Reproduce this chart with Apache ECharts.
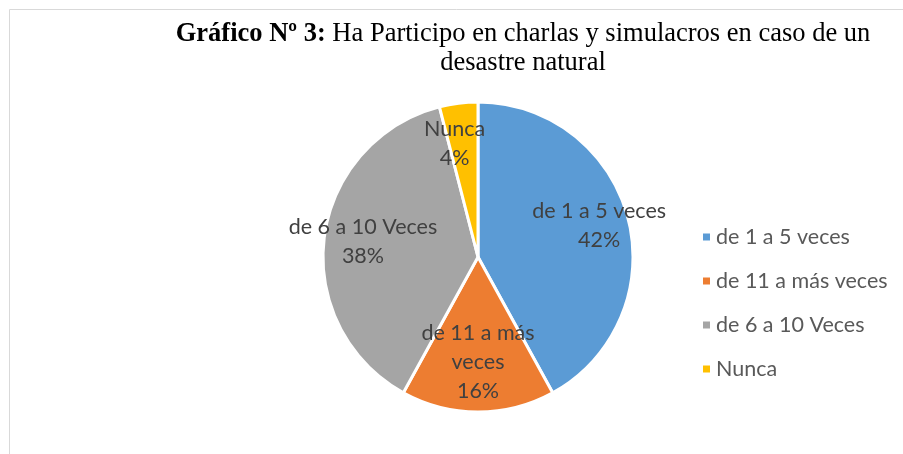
<!DOCTYPE html>
<html><head><meta charset="utf-8">
<script src="https://cdn.jsdelivr.net/npm/echarts@6/dist/echarts.min.js"></script>
<style>html,body{margin:0;padding:0;background:#fff}#c{width:903px;height:454px}</style>
</head><body><div id="c"></div>
<script>
const categories = ['de 1 a 5 veces', 'de 11 a más veces', 'de 6 a 10 Veces', 'Nunca'];
const values = [42, 16, 38, 4];
const labelNames = ['de 1 a 5 veces', 'de 11 a más\nveces', 'de 6 a 10 Veces', 'Nunca'];
const colors = ['#5B9BD5', '#ED7D31', '#A5A5A5', '#FFC000'];
const labelOffsets = [[2, -1], [0, -18], [7, 0], [-8, 9]];

const chart = echarts.init(document.getElementById('c'));
const font = 'Lato, "Noto Sans", sans-serif';
chart.setOption({
  animation: false,
  color: colors,
  title: {
    text: '{b|Gráfico Nº 3:} Ha Participo en charlas y simulacros en caso de un\ndesastre natural',
    left: 518, top: 15, textAlign: 'center',
    textStyle: {
      fontFamily: '"Liberation Serif", serif', fontSize: 26.5, fontWeight: 'normal', color: '#000', lineHeight: 29,
      rich: { b: { fontFamily: '"Liberation Serif", serif', fontSize: 26.5, fontWeight: 'bold', color: '#000', lineHeight: 29 } }
    }
  },
  legend: {
    orient: 'vertical', left: 696, top: 221, itemGap: 22,
    itemWidth: 9, itemHeight: 9, icon: 'rect', itemTextGap: 9,
    textStyle: { fontFamily: font, fontSize: 21.5, color: '#595959' },
    data: categories
  },
  graphic: [{
    type: 'rect', shape: { x: 9.5, y: 9.5, width: 1000, height: 1000 },
    style: { fill: 'none', stroke: '#d9d9d9', lineWidth: 1 }, silent: true
  }],
  series: [{
    type: 'pie', center: [478, 257], radius: [0, 155], startAngle: 90, clockwise: true,
    label: { show: false }, labelLine: { show: false },
    itemStyle: { borderColor: '#fff', borderWidth: 3 },
    data: categories.map((n, i) => ({ name: n, value: values[i] }))
  }, {
    type: 'pie', center: [478, 257], radius: [0, 240], startAngle: 90, clockwise: true,
    silent: true, legendHoverLink: false,
    itemStyle: { color: 'rgba(0,0,0,0)', borderWidth: 0 },
    labelLine: { show: false },
    label: {
      show: true, position: 'inside', fontFamily: font, fontSize: 21.5, color: '#404040', lineHeight: 29,
      formatter: p => labelNames[p.dataIndex] + '\n' + p.value + '%'
    },
    data: categories.map((n, i) => ({ name: n, value: values[i], label: { offset: labelOffsets[i] } }))
  }]
});
</script></body></html>
